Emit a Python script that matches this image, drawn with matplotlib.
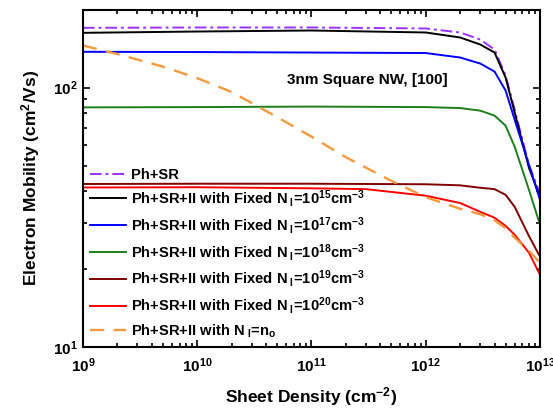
import matplotlib
matplotlib.use("Agg")
import matplotlib.pyplot as plt
from matplotlib.ticker import LogLocator, NullFormatter

plt.rcParams["font.family"] = ["Liberation Sans", "DejaVu Sans"]
plt.rcParams["font.weight"] = "bold"
plt.rcParams["mathtext.fontset"] = "custom"
plt.rcParams["mathtext.rm"] = "Liberation Sans:bold"
plt.rcParams["mathtext.it"] = "Liberation Sans:bold"
plt.rcParams["mathtext.bf"] = "Liberation Sans:bold"
plt.rcParams["mathtext.default"] = "rm"

# sheet density (cm^-2)
density = [1e9, 1e10, 1e11, 1e12, 2e12, 3e12, 4e12, 5e12, 6e12, 8e12, 1e13]
density_red = [1e9, 1e10, 1e11, 3e11, 1e12, 2e12, 3e12, 4e12, 5e12, 6e12, 8e12, 1e13]
density_n0 = [1e9, 2e9, 5e9, 1e10, 2e10, 5e10, 1e11, 2e11, 5e11, 1e12,
              2e12, 3e12, 4e12, 5e12, 6e12, 8e12, 1e13]

# electron mobility (cm^2/Vs)
mu_ph_sr = [170.0, 170.5, 170.5, 169.0, 163.1, 153.2, 140.2, 111.3, 82.3, 50.4, 39.0]
mu_ni15 = [162.6, 164.5, 166.0, 163.1, 156.0, 146.6, 136.5, 109.3, 80.1, 49.1, 37.9]
mu_ni17 = [137.4, 137.1, 136.5, 135.9, 130.6, 123.8, 115.3, 97.4, 75.2, 50.4, 36.9]
mu_ni18 = [83.9, 84.1, 84.5, 84.1, 83.4, 81.5, 78.0, 71.3, 59.2, 40.4, 29.6]
mu_ni19 = [42.5, 42.6, 42.6, 42.4, 42.0, 41.1, 40.6, 38.6, 34.7, 26.8, 22.3]
mu_ni20 = [41.2, 41.3, 40.9, 40.6, 38.3, 35.9, 33.2, 31.5, 29.3, 27.1, 23.1, 19.0]
mu_n0 = [145.3, 134.7, 120.5, 108.8, 96.2, 77.0, 64.7, 53.9, 43.7, 37.8,
         34.1, 32.5, 30.8, 28.7, 26.4, 23.5, 21.1]

fig = plt.figure(figsize=(5.53, 4.08), dpi=100)
ax = fig.add_axes([0.150, 0.1495, 0.8265, 0.8272])

lw = 1.4
ax.plot(density, mu_ph_sr, color="#9B30FF", lw=lw, ls=(0, (6, 2, 1.5, 2)), label="Ph+SR")
ax.plot(density, mu_ni15, color="black", lw=lw,
        label=r"Ph+SR+II with Fixed N$_{\rm\ I}$=10$^{15}$cm$^{-3}$")
ax.plot(density, mu_ni17, color="#0000FF", lw=lw,
        label=r"Ph+SR+II with Fixed N$_{\rm\ I}$=10$^{17}$cm$^{-3}$")
ax.plot(density, mu_ni18, color="#1A801A", lw=lw,
        label=r"Ph+SR+II with Fixed N$_{\rm\ I}$=10$^{18}$cm$^{-3}$")
ax.plot(density, mu_ni19, color="#800000", lw=lw,
        label=r"Ph+SR+II with Fixed N$_{\rm\ I}$=10$^{19}$cm$^{-3}$")
ax.plot(density_red, mu_ni20, color="#FF0000", lw=lw,
        label=r"Ph+SR+II with Fixed N$_{\rm\ I}$=10$^{20}$cm$^{-3}$")
ax.plot(density_n0, mu_n0, color="#F59A3C", lw=lw + 0.3, ls=(0, (6, 4)),
        label=r"Ph+SR+II with N$_{\rm\ I}$=n$_{\rm o}$")

ax.set_xscale("log")
ax.set_yscale("log")
ax.set_xlim(1e9, 1e13)
ax.set_ylim(10, 200)

ax.xaxis.set_major_locator(LogLocator(base=10, numticks=10))
ax.yaxis.set_major_locator(LogLocator(base=10, numticks=10))
ax.yaxis.set_minor_formatter(NullFormatter())
ax.tick_params(which="both", direction="in", top=True, right=True, width=1.2, labelsize=11)
ax.tick_params(which="major", length=5)
ax.tick_params(which="minor", length=3)
ax.tick_params(axis="x", which="major", pad=7)
for s in ax.spines.values():
    s.set_linewidth(1.5)

ax.set_xlabel(r"Sheet Density (cm$^{-2}$)", fontsize=12.5, fontweight="bold", labelpad=7)
ax.set_ylabel(r"Electron Mobility (cm$^{2}$/Vs)", fontsize=12.5, fontweight="bold", labelpad=8)

ax.text(0.6225, 0.791, "3nm Square NW, [100]", transform=ax.transAxes,
        ha="center", va="center", fontsize=11, fontweight="bold")

ax.legend(loc="lower left", frameon=False, handlelength=2.4,
          handletextpad=0.35, labelspacing=0.4, borderaxespad=0.2, borderpad=0.3,
          prop={"weight": "bold", "size": 10.6})

fig.savefig("out.png", dpi=100)
